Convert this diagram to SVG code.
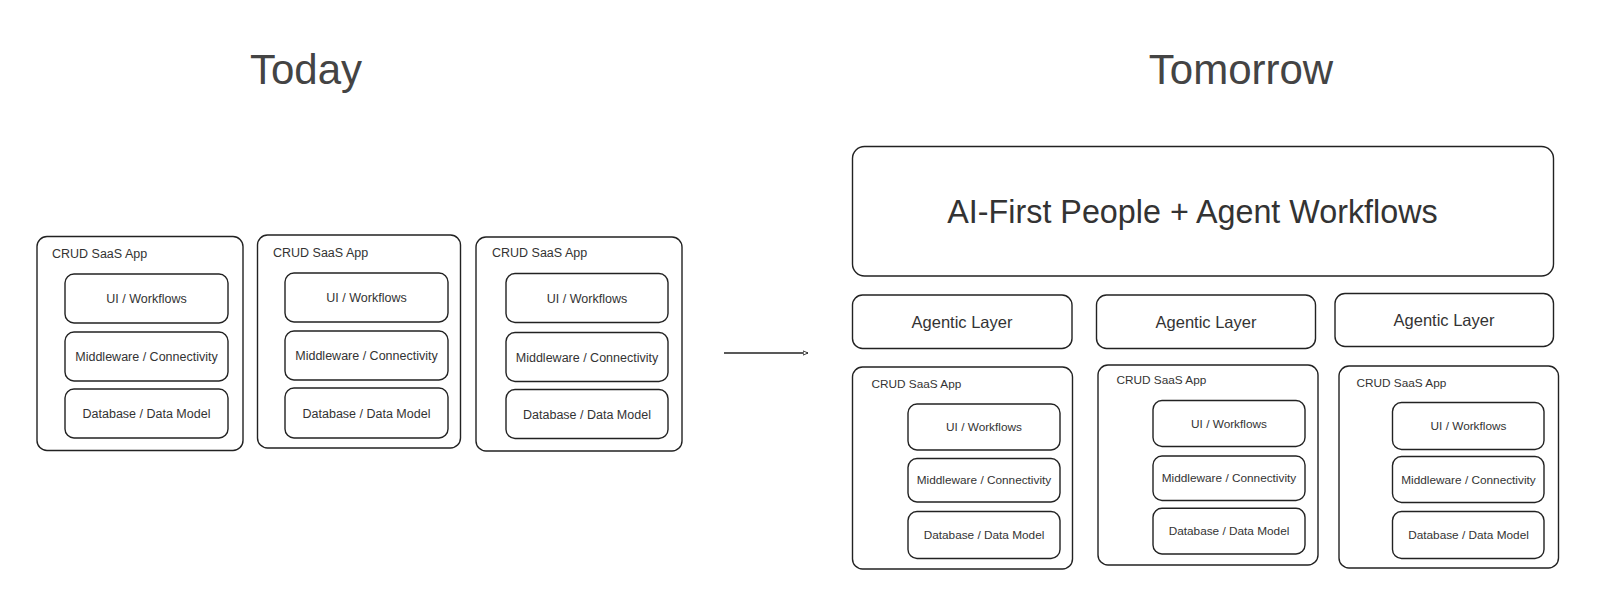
<svg xmlns="http://www.w3.org/2000/svg" width="1600" height="603" viewBox="0 0 1600 603">
<defs>
<marker id="arr" viewBox="0 0 10 10" refX="9" refY="5" markerWidth="6" markerHeight="6" orient="auto" markerUnits="userSpaceOnUse">
<path d="M1,1.5 L9,5 L1,8.5 Z" fill="#fff" stroke="#222" stroke-width="1.4"/>
</marker>
<style>
.box{fill:#fff;stroke:#222;stroke-width:1.4}
.title{font-family:"Liberation Sans",Arial,sans-serif;font-size:42px;fill:#444;text-anchor:middle}
.big{font-family:"Liberation Sans",Arial,sans-serif;font-size:32.3px;fill:#333;text-anchor:middle}
.ag{font-family:"Liberation Sans",Arial,sans-serif;font-size:16.5px;fill:#333;text-anchor:middle}
.lbl{font-family:"Liberation Sans",Arial,sans-serif;font-size:12.5px;fill:#333}
.in{font-family:"Liberation Sans",Arial,sans-serif;font-size:12.5px;fill:#333;text-anchor:middle}
.lbl2{font-family:"Liberation Sans",Arial,sans-serif;font-size:11.8px;fill:#333}
.in2{font-family:"Liberation Sans",Arial,sans-serif;font-size:11.8px;fill:#333;text-anchor:middle}
</style>
</defs>
<rect width="1600" height="603" fill="#fff"/>
<text class="title" x="306" y="84">Today</text>
<text class="title" x="1241" y="84">Tomorrow</text>

<g id="today-app1">
<rect class="box" x="37" y="236.5" width="206" height="214" rx="10"/>
<text class="lbl" x="52" y="258">CRUD SaaS App</text>
<rect class="box" x="65" y="274" width="163" height="49" rx="9"/>
<text class="in" x="146.5" y="303">UI / Workflows</text>
<rect class="box" x="65" y="332" width="163" height="49" rx="9"/>
<text class="in" x="146.5" y="361">Middleware / Connectivity</text>
<rect class="box" x="65" y="389" width="163" height="49" rx="9"/>
<text class="in" x="146.5" y="418">Database / Data Model</text>
</g>

<g id="today-app2">
<rect class="box" x="257.5" y="235" width="203" height="213" rx="10"/>
<text class="lbl" x="273" y="256.5">CRUD SaaS App</text>
<rect class="box" x="285" y="273" width="163" height="49" rx="9"/>
<text class="in" x="366.5" y="302">UI / Workflows</text>
<rect class="box" x="285" y="331" width="163" height="49" rx="9"/>
<text class="in" x="366.5" y="360">Middleware / Connectivity</text>
<rect class="box" x="285" y="388" width="163" height="50" rx="9"/>
<text class="in" x="366.5" y="417.5">Database / Data Model</text>
</g>

<g id="today-app3">
<rect class="box" x="476" y="237" width="206" height="214" rx="10"/>
<text class="lbl" x="492" y="257">CRUD SaaS App</text>
<rect class="box" x="506" y="273.5" width="162" height="49" rx="9"/>
<text class="in" x="587" y="302.5">UI / Workflows</text>
<rect class="box" x="506" y="332.5" width="162" height="49" rx="9"/>
<text class="in" x="587" y="361.5">Middleware / Connectivity</text>
<rect class="box" x="506" y="389.5" width="162" height="49" rx="9"/>
<text class="in" x="587" y="418.5">Database / Data Model</text>
</g>

<g id="connectors">
<line x1="724" y1="353" x2="808" y2="353" stroke="#222" stroke-width="1.3" marker-end="url(#arr)"/>
</g>

<g id="ai-first">
<rect class="box" x="852.5" y="146.5" width="701" height="129.5" rx="12"/>
<text class="big" x="1192.5" y="223">AI-First People + Agent Workflows</text>
</g>

<g id="agentic1">
<rect class="box" x="852.5" y="295" width="219.5" height="53.5" rx="10"/>
<text class="ag" x="962" y="328">Agentic Layer</text>
</g>
<g id="agentic2">
<rect class="box" x="1096.5" y="295" width="219" height="53.5" rx="10"/>
<text class="ag" x="1206" y="328">Agentic Layer</text>
</g>
<g id="agentic3">
<rect class="box" x="1335" y="293.5" width="218.5" height="53" rx="10"/>
<text class="ag" x="1444" y="326">Agentic Layer</text>
</g>

<g id="tomorrow-app1">
<rect class="box" x="852.5" y="367" width="220" height="202" rx="10"/>
<text class="lbl2" x="871.5" y="388">CRUD SaaS App</text>
<rect class="box" x="908" y="404" width="152" height="46" rx="9"/>
<text class="in2" x="984" y="431">UI / Workflows</text>
<rect class="box" x="908" y="458.5" width="152" height="43.5" rx="9"/>
<text class="in2" x="984" y="484">Middleware / Connectivity</text>
<rect class="box" x="908" y="511.5" width="152" height="47" rx="9"/>
<text class="in2" x="984" y="539">Database / Data Model</text>
</g>

<g id="tomorrow-app2">
<rect class="box" x="1098" y="365" width="220" height="200" rx="10"/>
<text class="lbl2" x="1116.5" y="383.5">CRUD SaaS App</text>
<rect class="box" x="1153" y="400.5" width="152" height="46" rx="9"/>
<text class="in2" x="1229" y="427.8">UI / Workflows</text>
<rect class="box" x="1153" y="456" width="152" height="44.5" rx="9"/>
<text class="in2" x="1229" y="482.4">Middleware / Connectivity</text>
<rect class="box" x="1153" y="508.3" width="152" height="45.7" rx="9"/>
<text class="in2" x="1229" y="535.3">Database / Data Model</text>
</g>

<g id="tomorrow-app3">
<rect class="box" x="1339" y="366" width="219.5" height="202" rx="10"/>
<text class="lbl2" x="1356.5" y="386.5">CRUD SaaS App</text>
<rect class="box" x="1392.5" y="402.5" width="151.5" height="47" rx="9"/>
<text class="in2" x="1468.5" y="430">UI / Workflows</text>
<rect class="box" x="1392.5" y="456.5" width="151.5" height="46" rx="9"/>
<text class="in2" x="1468.5" y="484">Middleware / Connectivity</text>
<rect class="box" x="1392.5" y="511.5" width="151.5" height="47" rx="9"/>
<text class="in2" x="1468.5" y="539">Database / Data Model</text>
</g>
</svg>
